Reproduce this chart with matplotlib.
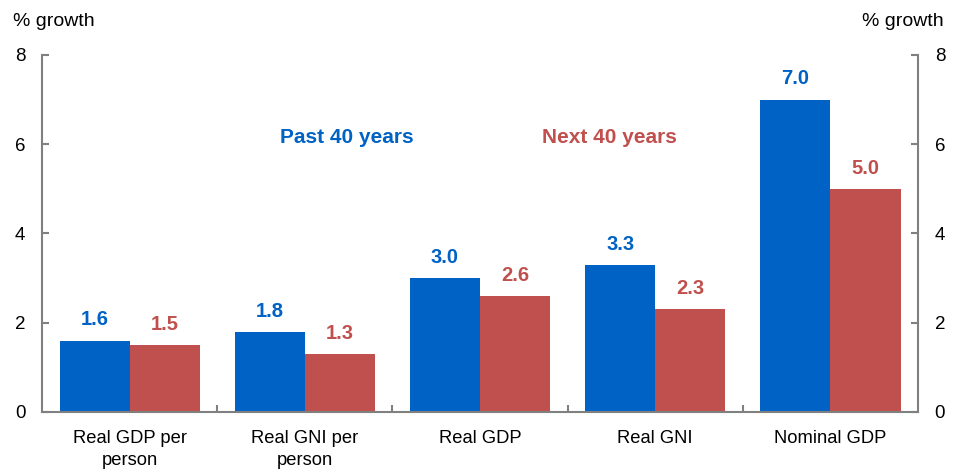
import matplotlib.pyplot as plt
import numpy as np

plt.rcParams['font.family'] = ['Liberation Sans', 'DejaVu Sans']

categories = ['Real GDP per\nperson', 'Real GNI per\nperson', 'Real GDP', 'Real GNI', 'Nominal GDP']
past = [1.6, 1.8, 3.0, 3.3, 7.0]
future = [1.5, 1.3, 2.6, 2.3, 5.0]

blue = '#0062C4'
red = '#C0504D'
grey = '#808080'

fig = plt.figure(figsize=(9.57, 4.73), dpi=100)
ax = fig.add_axes([0.0439, 0.129, 0.9154, 0.755])

x = np.arange(len(categories))
w = 0.4
b1 = ax.bar(x - w / 2, past, w, color=blue)
b2 = ax.bar(x + w / 2, future, w, color=red)

for bars, vals, c in [(b1, past, blue), (b2, future, red)]:
    for b, v in zip(bars, vals):
        ax.annotate(f'{v:.1f}', (b.get_x() + b.get_width() / 2, v),
                    xytext=(0, 8), textcoords='offset points',
                    ha='center', va='bottom', color=c,
                    fontsize=14.5, fontweight='bold')

ax.text(1.24, 6.16, 'Past 40 years', color=blue, fontsize=15,
        fontweight='bold', ha='center', va='center')
ax.text(2.74, 6.16, 'Next 40 years', color=red, fontsize=15,
        fontweight='bold', ha='center', va='center')

ax.set_xlim(-0.5, 4.5)
ax.set_ylim(0, 8)
ax.set_yticks([0, 2, 4, 6, 8])
ax.set_xticks(x)
ax.set_xticklabels(categories, fontsize=13.2, linespacing=1.4)
ax.set_xticks(np.arange(0.5, 4.5, 1), minor=True)
ax.tick_params(axis='x', which='major', length=0, pad=13)
ax.tick_params(axis='x', which='minor', direction='in', length=5, color=grey, width=1.5)
ax.tick_params(axis='y', direction='in', length=5, color=grey, width=1.5,
               labelsize=13.5, left=True, right=True, labelleft=True,
               labelright=True, pad=12)

ax.spines['top'].set_visible(False)
for s in ['left', 'right', 'bottom']:
    ax.spines[s].set_color(grey)
    ax.spines[s].set_linewidth(1.5)

fig.text(0.014, 0.955, '% growth', fontsize=14, ha='left', va='center')
fig.text(0.986, 0.955, '% growth', fontsize=14, ha='right', va='center')

fig.savefig('out.png', dpi=100)
